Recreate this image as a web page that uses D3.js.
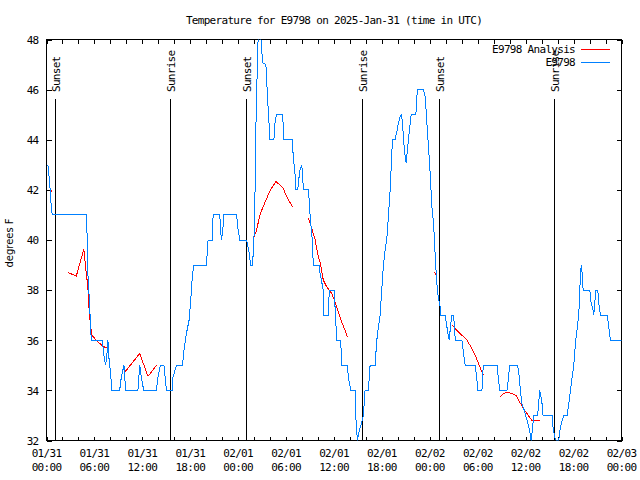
<!DOCTYPE html>
<html><head><meta charset="utf-8">
<script src="https://cdn.jsdelivr.net/npm/d3@7"></script>
<style>
body{margin:0;background:#fff;}
svg{display:block;}
text{font-family:"DejaVu Sans Mono",monospace;font-size:11px;letter-spacing:-0.7px;fill:#000;}
</style></head><body>
<svg id="chart" width="640" height="480"></svg>
<script>
// ---- data (hours since 2025-01-31 00:00 UTC) ----
const stationHours = [0.16,0.25,0.38,0.46,0.59,0.72,4.98,5.11,5.18,5.39,5.48,5.61,6.99,7.15,7.40,7.56,7.69,7.81,7.99,8.19,9.16,9.37,9.70,9.91,11.45,11.67,11.88,12.17,13.76,13.96,14.26,14.71,15.02,15.72,15.84,16.27,17.02,17.22,17.52,17.85,18.06,18.28,18.48,20.03,20.23,20.79,20.86,21.70,21.79,21.91,22.08,22.20,23.80,24.00,24.21,25.05,25.38,25.55,25.80,25.97,26.09,26.18,26.31,26.43,26.51,26.81,26.93,27.06,27.47,27.69,27.89,27.97,28.47,28.64,28.81,29.57,29.73,30.77,30.90,31.11,31.23,31.45,31.61,31.74,31.95,32.08,32.15,32.78,32.90,32.99,33.20,33.28,33.41,34.16,34.25,34.46,34.66,34.75,35.29,35.41,36.00,36.13,36.34,36.84,36.97,37.67,37.80,38.10,38.64,38.72,38.93,39.18,39.48,39.68,39.89,40.30,40.52,41.14,41.36,41.56,41.77,41.98,42.19,42.40,42.61,42.81,43.03,43.24,43.32,43.65,43.87,44.07,44.28,44.41,44.57,44.70,44.91,45.03,45.20,45.32,45.54,45.66,46.25,46.37,46.50,47.21,47.42,47.63,47.83,48.04,48.26,48.46,48.58,48.67,48.80,48.96,49.30,49.38,49.92,50.14,50.34,50.46,50.55,50.77,50.97,51.09,51.18,52.02,52.22,52.43,53.69,53.90,53.98,54.53,54.61,54.73,56.41,56.61,56.74,57.66,57.86,57.99,58.99,59.21,59.33,59.54,59.83,60.17,60.50,60.67,60.88,61.00,61.50,61.63,61.75,61.93,62.05,62.18,63.31,63.43,63.63,63.85,64.14,64.35,64.56,64.77,65.19,65.40,65.61,65.82,66.02,66.23,66.45,66.65,66.77,66.95,67.07,67.20,68.03,68.20,68.45,68.53,68.65,68.78,69.03,69.16,69.37,70.21,70.41,70.62,72.0];
const stationTemps = [43.0,42.8,42.27,42.0,41.33,41.0,41.0,40.0,38.67,37.47,36.8,36.0,36.0,35.47,35.0,35.4,36.0,35.33,34.8,34.0,34.0,34.53,35.0,34.0,34.0,35.0,34.53,34.0,34.0,34.53,35.0,35.0,34.0,34.0,34.53,35.0,35.0,35.6,36.27,36.8,37.6,38.67,39.0,39.0,40.0,40.0,41.0,41.0,40.4,40.0,40.4,41.0,41.0,40.4,40.0,40.0,39.47,39.0,39.0,40.0,41.33,43.87,45.8,47.33,48.2,48.2,47.67,47.07,47.0,45.6,44.53,44.0,44.0,44.8,45.0,45.0,44.0,44.0,43.33,42.67,42.0,42.0,42.47,42.8,43.0,42.6,42.0,42.0,41.6,41.07,40.27,40.0,39.0,39.0,38.67,38.33,38.0,37.0,37.0,38.0,38.0,37.33,36.0,36.0,35.0,35.0,34.53,34.0,34.0,33.0,32.0,32.4,32.73,33.0,34.0,34.0,35.0,35.0,36.0,36.53,37.0,38.0,39.0,39.6,40.03,40.93,42.0,43.47,44.0,44.0,44.33,44.67,44.93,45.0,44.73,44.0,43.33,43.07,43.6,44.0,44.67,45.0,45.0,45.73,46.0,46.0,45.73,44.67,43.73,42.67,41.33,40.67,40.0,39.4,38.67,37.9,37.33,37.0,37.0,36.53,36.13,36.0,36.47,37.0,37.0,36.53,36.0,36.0,35.47,35.0,35.0,34.4,34.0,34.0,34.67,35.0,35.0,34.4,34.0,34.0,34.53,35.0,35.0,34.53,34.0,33.47,33.2,32.8,32.4,32.0,32.53,33.0,33.0,33.47,34.0,33.73,33.47,33.0,33.0,32.53,32.13,32.0,32.0,32.53,32.8,33.0,33.0,33.47,34.0,34.53,35.0,35.87,36.47,37.0,38.0,39.0,38.67,38.0,38.0,37.47,37.2,37.0,37.47,38.0,38.0,37.47,37.0,37.0,36.53,36.0,36.0];
// null entries separate the analysis segments
const analysisHours = [0.62,0.68,null,2.67,3.73,4.68,4.89,5.18,5.31,5.48,5.68,6.23,7.06,7.69,null,9.66,11.67,12.71,13.76,null,25.88,26.31,26.72,27.13,27.76,28.19,28.73,29.23,29.64,30.07,30.82,null,32.78,33.20,33.62,34.03,34.25,34.66,35.09,35.71,36.13,36.54,36.97,37.38,37.67,null,48.62,48.70,null,50.77,51.39,52.02,52.65,53.27,53.69,54.10,54.53,54.73,null,56.74,57.24,57.74,58.29,58.83,59.25,59.75,60.17,60.80,61.75];
const analysisTemps = [42.0,41.9,null,38.71,38.56,39.63,38.93,38.13,37.33,36.67,36.2,36.0,35.76,35.67,null,34.67,35.47,34.56,35.0,null,40.03,40.4,41.0,41.33,41.8,42.07,42.33,42.2,42.07,41.73,41.31,null,40.87,40.47,40.03,39.33,39.13,38.4,38.13,37.87,37.53,37.13,36.73,36.4,36.13,null,38.72,38.6,null,36.6,36.4,36.2,36.0,35.67,35.4,35.07,34.73,34.6,null,33.73,33.87,33.93,33.87,33.8,33.53,33.27,33.07,32.8,32.8];
const eventHours = [1.04,15.47,25.0,39.55,49.09,63.51];
const eventLabels = ["Sunset","Sunrise","Sunset","Sunrise","Sunset","Sunrise"];
const yTicks = [32,34,36,38,40,42,44,46,48];
const seriesNames = ["E9798 Analysis","E9798"];
const titleText = "Temperature for E9798 on 2025-Jan-31 (time in UTC)";
const yLabel = "degrees F";

// ---- chart ----
const t0 = Date.UTC(2025,0,31);
const toDate = h => new Date(t0 + h*3600e3);
const L=46.5, R=621.5, T=39.5, B=440.5;
const svg = d3.select("#chart");
const x = d3.scaleUtc().domain([toDate(0),toDate(72)]).range([L,R]);
const y = d3.scaleLinear().domain([32,48]).range([B,T]);

svg.append("defs").append("clipPath").attr("id","clip")
  .append("rect").attr("x",L).attr("y",T).attr("width",R-L).attr("height",B-T);

// title
svg.append("text").attr("x",(L+R)/2).attr("y",24).attr("text-anchor","middle").text(titleText);
// y label
svg.append("text").attr("transform","translate(13,243) rotate(-90)").attr("text-anchor","middle")
  .style("font-family","'DejaVu Sans',sans-serif").style("font-size","10px").style("letter-spacing","0px").text(yLabel);

// axes
const hourTicks = d3.utcHour.every(2).range(toDate(0),toDate(72.01));
const gx = svg.append("g").attr("transform",`translate(0,${B})`)
  .call(d3.axisBottom(x).tickValues(hourTicks).tickSize(-4).tickFormat("").tickSizeOuter(0));
const gxt = svg.append("g").attr("transform",`translate(0,${T})`)
  .call(d3.axisTop(x).tickValues(hourTicks).tickSize(-4).tickFormat("").tickSizeOuter(0));
const gy = svg.append("g").attr("transform",`translate(${L},0)`)
  .call(d3.axisLeft(y).tickValues(yTicks).tickSize(-5).tickPadding(8).tickSizeOuter(0).tickFormat(d3.format("d")));
const gyr = svg.append("g").attr("transform",`translate(${R},0)`)
  .call(d3.axisRight(y).tickValues(yTicks).tickSize(-5).tickFormat("").tickSizeOuter(0));
[gx,gxt,gy,gyr].forEach(g=>{
  g.select(".domain").remove();
  g.selectAll("line").attr("stroke","#000").attr("shape-rendering","crispEdges");
  g.selectAll("text").attr("font-family",null).attr("font-size",null);
});
gy.selectAll(".tick text").attr("x",-8).attr("dy","0.35em");

// x labels (two lines)
const labTicks = d3.utcHour.every(6).range(toDate(0),toDate(72.01));
const fmtD = d3.utcFormat("%m/%d"), fmtT = d3.utcFormat("%H:%M");
const xl = svg.append("g").selectAll("text").data(labTicks).join("text")
  .attr("x",d=>x(d)).attr("text-anchor","middle");
xl.append("tspan").attr("x",d=>x(d)).attr("y",457).text(d=>fmtD(d));
xl.append("tspan").attr("x",d=>x(d)).attr("y",471).text(d=>fmtT(d));

// border
svg.append("rect").attr("x",L).attr("y",T).attr("width",R-L).attr("height",B-T)
  .attr("fill","none").attr("stroke","#000").attr("shape-rendering","crispEdges");

// event lines
const ev = svg.append("g").selectAll("g").data(eventHours).join("g");
ev.append("line").attr("x1",d=>Math.round(x(toDate(d)))+0.5).attr("x2",d=>Math.round(x(toDate(d)))+0.5)
  .attr("y1",99).attr("y2",B).attr("stroke","#000").attr("shape-rendering","crispEdges");
ev.append("text").attr("transform",d=>`translate(${Math.round(x(toDate(d)))+5},92) rotate(-90)`)
  .text((d,i)=>eventLabels[i]);

// series
const plot = svg.append("g").attr("clip-path","url(#clip)");
const stationData = stationHours.map((h,i)=>({t:toDate(h),v:stationTemps[i]}));
const analysisData = analysisHours.map((h,i)=>({t:h==null?null:toDate(h),v:analysisTemps[i]}));
const line = d3.line().defined(d=>d.t!=null && d.v!=null).x(d=>x(d.t)).y(d=>y(d.v));
plot.append("path").datum(analysisData).attr("d",line).attr("fill","none").attr("stroke","#ff0000")
  .attr("stroke-width",1).attr("shape-rendering","crispEdges");
plot.append("path").datum(stationData).attr("d",line).attr("fill","none").attr("stroke","#0080ff")
  .attr("stroke-width",1).attr("shape-rendering","crispEdges");

// legend
const colors = ["#ff0000","#0080ff"];
const lg = svg.append("g").selectAll("g").data(seriesNames).join("g")
  .attr("transform",(d,i)=>`translate(0,${49.5+i*13})`);
lg.append("text").attr("x",575).attr("y",0).attr("dy","0.35em").attr("text-anchor","end").text(d=>d);
lg.append("line").attr("x1",581).attr("x2",610).attr("y1",0).attr("y2",0)
  .attr("stroke",(d,i)=>colors[i]).attr("stroke-width",1).attr("shape-rendering","crispEdges");
</script></body></html>
